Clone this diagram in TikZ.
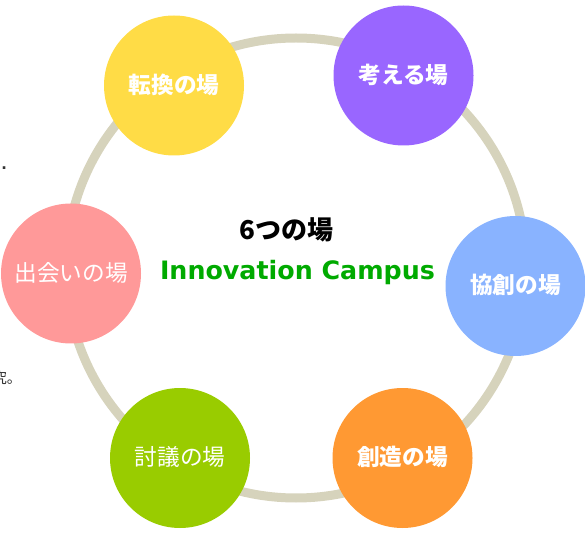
\documentclass[tikz,border=0pt]{standalone}
\usepackage{fontspec}
\newfontfamily\jp{Noto Sans CJK JP}
\newfontfamily\lat{DejaVu Sans}
\definecolor{ringc}{RGB}{214,211,188}
\definecolor{cyellow}{RGB}{255,220,70}
\definecolor{cpurple}{RGB}{153,102,255}
\definecolor{cblue}{RGB}{137,179,255}
\definecolor{corange}{RGB}{255,153,51}
\definecolor{cgreen}{RGB}{153,204,0}
\definecolor{cpink}{RGB}{255,153,153}
\definecolor{tgreen}{RGB}{0,170,0}
\definecolor{tgray}{RGB}{51,51,51}
\tikzset{
  x=0.75pt, y=-0.75pt,
  ring/.style={draw=ringc, line width=6.75pt},
  place/.style={circle, inner sep=0pt, minimum size=105pt, text=white,
    font=\jp\fontsize{17pt}{17pt}\selectfont},
  placeb/.style={place, font=\jp\bfseries\fontsize{17pt}{17pt}\selectfont},
  frag/.style={inner sep=0pt, text=tgray, font=\jp\fontsize{11pt}{11pt}\selectfont},
}
\begin{document}
\begin{tikzpicture}
\useasboundingbox (0,0) rectangle (585,534);
\coordinate (c) at (296,268);
\draw[ring] (c) circle [radius=230];
\node[frag, anchor=base west, font=\lat\bfseries\fontsize{11pt}{11pt}\selectfont] (f1) at (1,169.5) {.};
\node[frag, anchor=base west] (f2) at (-8,383.5) {究。};
\node[placeb, fill=cyellow] (a) at (174,85.5) {\raisebox{2.6pt}{転換の場}};
\node[placeb, fill=cpurple] (b) at (403.5,75.5) {\raisebox{2.6pt}{考える場}};
\node[placeb, fill=cblue] (d) at (515.5,286) {\raisebox{2.6pt}{協創の場}};
\node[placeb, fill=corange] (e) at (402.5,458) {\raisebox{2.6pt}{創造の場}};
\node[place, fill=cgreen] (g) at (180,458) {\raisebox{2.6pt}{討議の場}};
\node[place, fill=cpink] (h) at (71,273.5) {\raisebox{2.6pt}{出会いの場}};
\node[inner sep=0pt, font=\jp\bfseries\fontsize{19.5pt}{19.5pt}\selectfont] (t1) at (286.5,230) {6つの場};
\node[inner sep=0pt, anchor=base, text=tgreen, font=\lat\bfseries\fontsize{19pt}{19pt}\selectfont] (t2) at (297.5,280) {Innovation Campus};
\end{tikzpicture}
\end{document}
